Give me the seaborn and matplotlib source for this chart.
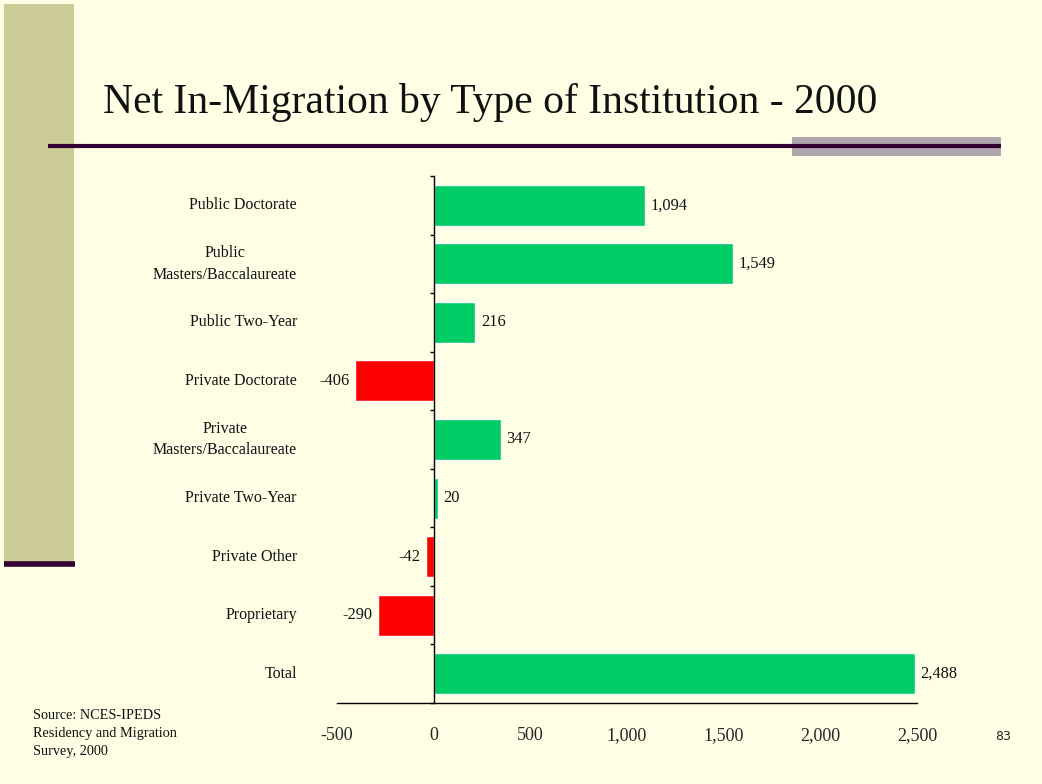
import matplotlib
matplotlib.use("Agg")
import matplotlib.pyplot as plt
import seaborn as sns
import pandas as pd
from matplotlib.patches import Rectangle
from matplotlib.lines import Line2D

# ---- data ----
categories = ["Public Doctorate", "Public\nMasters/Baccalaureate", "Public Two-Year",
              "Private Doctorate", "Private\nMasters/Baccalaureate", "Private Two-Year",
              "Private Other", "Proprietary", "Total"]
values = [1094, 1549, 216, -406, 347, 20, -42, -290, 2488]
value_labels = ["1,094", "1,549", "216", "-406", "347", "20", "-42", "-290", "2,488"]
x_ticks = [-500, 0, 500, 1000, 1500, 2000, 2500]
x_tick_labels = ["-500", "0", "500", "1,000", "1,500", "2,000", "2,500"]
title = "Net In-Migration by Type of Institution - 2000"
source = "Source: NCES-IPEDS\nResidency and Migration\nSurvey, 2000"
page_no = "83"

BG = "#FFFFE6"
GREEN = "#00CC66"
RED = "#FF0000"
OLIVE = "#CCCC99"
DARK = "#330033"
GRAY = "#B0A6AE"
SERIF = ["Liberation Serif", "DejaVu Serif"]

sns.set_theme(style="white")
plt.rcParams["font.family"] = SERIF

W, H = 1042, 784
fig = plt.figure(figsize=(W / 100, H / 100), dpi=100, facecolor=BG)

def fx(px):
    return px / W

def fy(py):
    return 1 - py / H

# decorations
fig.patches.append(Rectangle((fx(4), fy(563)), fx(70), 559 / H, transform=fig.transFigure,
                             facecolor=OLIVE, edgecolor="none", zorder=0))
fig.patches.append(Rectangle((fx(792), fy(156)), fx(209), 19 / H, transform=fig.transFigure,
                             facecolor=GRAY, edgecolor="none", zorder=1))
fig.lines.append(Line2D([fx(48), fx(1001)], [fy(146), fy(146)], transform=fig.transFigure,
                        color=DARK, linewidth=3.0, solid_capstyle="butt", zorder=2))
fig.lines.append(Line2D([fx(4), fx(75)], [fy(564), fy(564)], transform=fig.transFigure,
                        color=DARK, linewidth=4.0, solid_capstyle="butt", zorder=2))

fig.text(fx(103), fy(113), title, fontsize=30, ha="left", va="baseline", color="#111111",
         family=SERIF)
fig.text(fx(33), fy(709), source, fontsize=10.3, ha="left", va="top", linespacing=1.5,
         color="#111111", family=SERIF)
fig.text(fx(1003), fy(737), page_no, fontsize=9, ha="center", va="center",
         color="#222222", family=["DejaVu Sans"])

ax = fig.add_axes([fx(337), fy(703), fx(580), (703 - 176) / H])
ax.set_facecolor("none")

df = pd.DataFrame({"cat": categories, "val": values,
                   "sign": ["pos" if v >= 0 else "neg" for v in values]})
sns.barplot(data=df, x="val", y="cat", hue="sign", palette={"pos": GREEN, "neg": RED},
            dodge=False, width=0.7, orient="h", legend=False, ax=ax, saturation=1)

ax.set_xlim(-500, 2500)
ax.set_ylim(len(categories) - 0.5, -0.5)
ax.set_xlabel("")
ax.set_ylabel("")

for s in ["top", "right"]:
    ax.spines[s].set_visible(False)
ax.spines["left"].set_position(("data", 0))
for s in ["left", "bottom"]:
    ax.spines[s].set_color("black")
    ax.spines[s].set_linewidth(1.0)

ax.set_xticks(x_ticks)
ax.set_xticklabels(x_tick_labels, fontsize=13, family=SERIF)
ax.tick_params(axis="x", direction="in", length=4, width=1, color="black", pad=17)

ax.set_yticks([i - 0.5 for i in range(len(categories) + 1)])
ax.set_yticklabels([])
ax.tick_params(axis="y", direction="out", length=3, width=1, color="black", left=True)

ytr = ax.get_yaxis_transform()
for i, c in enumerate(categories):
    ax.text(-0.069, i, c, transform=ytr, ha="right", va="center", multialignment="center",
            fontsize=11.5, family=SERIF, color="#111111", linespacing=1.45)

for i, (v, lab) in enumerate(zip(values, value_labels)):
    if v >= 0:
        ax.annotate(lab, (v, i), xytext=(4, 0), textcoords="offset points", ha="left",
                    va="center", fontsize=11.8, family=SERIF, color="#111111")
    else:
        ax.annotate(lab, (v, i), xytext=(-4, 0), textcoords="offset points", ha="right",
                    va="center", fontsize=11.8, family=SERIF, color="#111111")

fig.savefig("out.png", dpi=100, facecolor=BG)
